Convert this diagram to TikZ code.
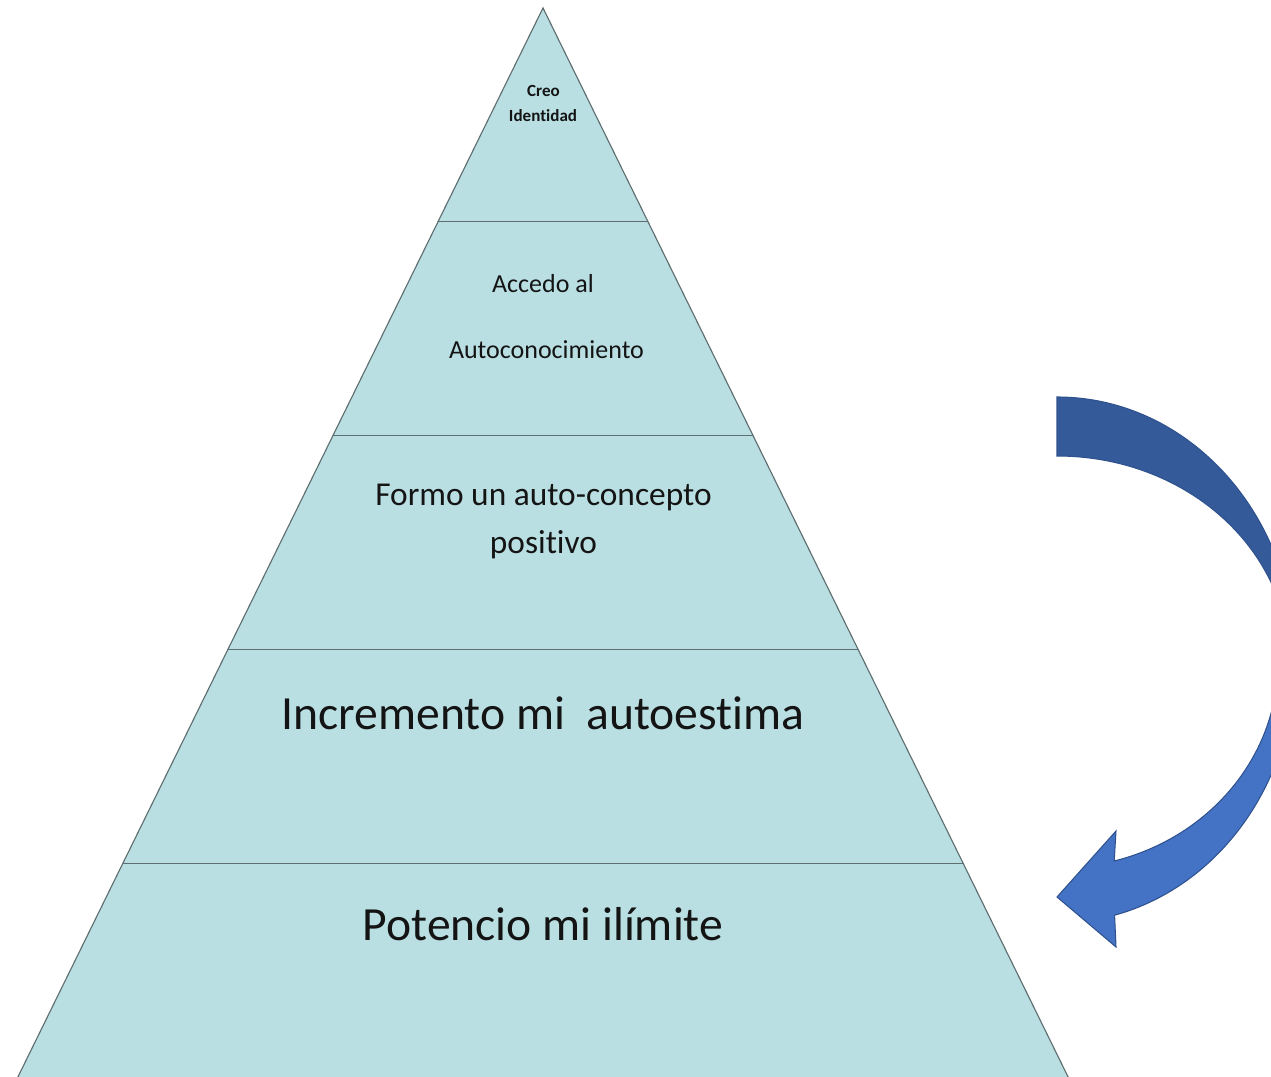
\documentclass[tikz,border=0pt]{standalone}
\usepackage{fontspec}
\setmainfont[Ligatures={TeX,NoCommon}]{Carlito}
\usetikzlibrary{calc}
\definecolor{pyrfill}{RGB}{185,223,227}
\definecolor{pyrline}{RGB}{95,110,112}
\definecolor{txt}{RGB}{20,20,20}
\definecolor{arrowdark}{RGB}{52,90,153}
\definecolor{arrowlight}{RGB}{68,114,196}
\definecolor{arrowline}{RGB}{47,82,143}
\tikzset{
  lvltext/.style={anchor=base, inner sep=0pt, text=txt},
  divider/.style={draw=pyrline, line width=0.65pt},
}
\def\arrowpath{(1057,-397) arc[start angle=90,end angle=-76,x radius=238,y radius=263] -- (1116,-947) -- (1057,-897) -- (1116,-831) -- (1114.2,-861) arc[start angle=-75,end angle=0,x radius=221,y radius=206] -- (1289,-662) arc[start angle=0,end angle=90,x radius=232,y radius=206] -- cycle}
\begin{document}
\begin{tikzpicture}[x=0.02cm,y=0.02cm]
\useasboundingbox (0,0) rectangle (1271,-1077);
\clip (0,0) rectangle (1271,-1077);
% pyramid
\coordinate (apex) at (543,-8);
\coordinate (bl) at (18,-1077);
\coordinate (br) at (1068,-1077);
\coordinate (blx) at (11.5,-1090);
\coordinate (brx) at (1074.5,-1090);
\fill[pyrfill] (apex) -- (brx) -- (blx) -- cycle;
\draw[divider] (blx) -- (apex) -- (brx);
\foreach \f in {0.2,0.4,0.6,0.8}{
  \draw[divider] ($(apex)!\f!(bl)$) -- ($(apex)!\f!(br)$);
}
% texts
\node[lvltext, font=\fontsize{9.7}{11}\selectfont\bfseries] (creo) at (543.5,-96.5) {Creo};
\node[lvltext, font=\fontsize{9.7}{11}\selectfont\bfseries] (identidad) at (543,-121.5) {Identidad};
\node[lvltext, font=\fontsize{14.8}{17}\selectfont] (accedo) at (543,-293) {Accedo al};
\node[lvltext, font=\fontsize{14.8}{17}\selectfont] (autocon) at (546.5,-358.5) {Autoconocimiento};
\node[lvltext, font=\fontsize{19}{22}\selectfont] (formo) at (543.5,-506) {Formo un auto-concepto};
\node[lvltext, font=\fontsize{19}{22}\selectfont] (positivo) at (543.5,-554) {positivo};
\node[lvltext, font=\fontsize{27.1}{31}\selectfont] (incremento) at (543,-729.5) {Incremento mi\ \ autoestima};
\node[lvltext, font=\fontsize{27.1}{31}\selectfont] (potencio) at (543,-940.5) {Potencio mi ilímite};
% curved arrow
\begin{scope}
  \clip \arrowpath;
  \fill[arrowdark] (1000,-380) rectangle (1400,-662);
  \fill[arrowlight] (1000,-662) rectangle (1400,-960);
\end{scope}
\draw[arrowline, line width=0.6pt, line join=miter] \arrowpath;
\end{tikzpicture}
\end{document}
